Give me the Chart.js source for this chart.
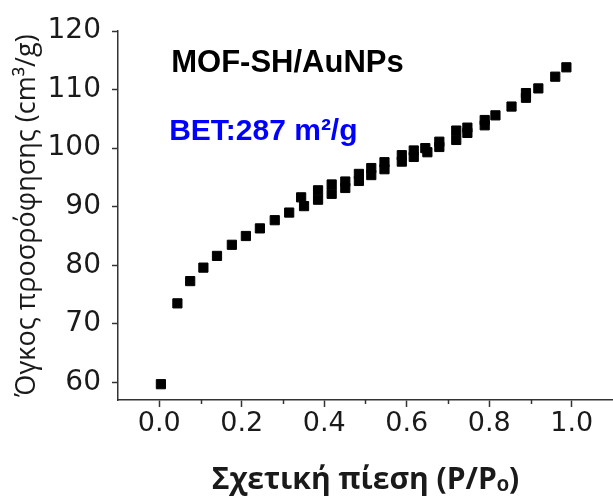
<!DOCTYPE html>
<html>
<head>
<meta charset="utf-8">
<script src="https://cdn.jsdelivr.net/npm/chart.js"></script>
<style>
  html, body { margin: 0; padding: 0; background: #fff; overflow: hidden; }
  #wrap { width: 613px; height: 501px; position: relative; }
  #isotherm { display: block; }
</style>
</head>
<body>
<div id="wrap"><canvas id="isotherm"></canvas></div>
<script>
// Ισόθερμη N2 - MOF-SH/AuNPs
const relPressure = [
  0.004, 0.044, 0.075, 0.107, 0.140, 0.176, 0.210, 0.244, 0.280, 0.315,
  0.344, 0.351, 0.385, 0.385, 0.418, 0.418, 0.451, 0.451, 0.484, 0.484,
  0.514, 0.514, 0.546, 0.546, 0.588, 0.588, 0.617, 0.617, 0.645, 0.650,
  0.679, 0.679, 0.720, 0.720, 0.747, 0.747, 0.789, 0.789, 0.815, 0.854,
  0.889, 0.889, 0.919, 0.960, 0.987
];
const volumeAdsorbed = [
  59.7, 73.5, 77.3, 79.6, 81.6, 83.5, 85.0, 86.3, 87.7, 89.0,
  91.6, 90.1, 92.8, 91.2, 93.8, 92.2, 94.3, 93.2, 95.6, 94.4,
  96.6, 95.4, 97.6, 96.4, 98.8, 97.7, 99.6, 98.5, 100.0, 99.3,
  101.1, 100.2, 103.0, 101.4, 103.5, 102.6, 104.8, 103.9, 105.6, 107.1,
  109.4, 108.6, 110.2, 112.2, 113.8
];
const xMajorTicks = [0, 0.2, 0.4, 0.6, 0.8, 1.0];
const xMinorTicks = [0.1, 0.3, 0.5, 0.7, 0.9];
const yTicks = [60, 70, 80, 90, 100, 110, 120];

const sampleLabel = 'MOF-SH/AuNPs';
const betLabel = 'BET:287 m²/g';

const axisColor = '#333';
const textColor = '#1a1a1a';

// μικρές υποδιαιρέσεις στον άξονα x
const minorTicksPlugin = {
  id: 'minorTicks',
  afterDraw(chart) {
    const ctx = chart.ctx;
    const xs = chart.scales.x;
    const bottom = chart.chartArea.bottom;
    ctx.save();
    ctx.strokeStyle = axisColor;
    ctx.lineWidth = 1.5;
    xMinorTicks.forEach(v => {
      const px = Math.round(xs.getPixelForValue(v)) + 0.5;
      ctx.beginPath();
      ctx.moveTo(px, bottom);
      ctx.lineTo(px, bottom + 4);
      ctx.stroke();
    });
    ctx.restore();
  }
};

// ετικέτες μέσα στο διάγραμμα
const labelsPlugin = {
  id: 'insideLabels',
  afterDatasetsDraw(chart) {
    const ctx = chart.ctx;
    const xs = chart.scales.x;
    const ys = chart.scales.y;
    ctx.save();
    ctx.font = 'bold 31px "Liberation Sans", Arial, sans-serif';
    ctx.textAlign = 'left';
    ctx.textBaseline = 'alphabetic';
    ctx.fillStyle = '#000';
    ctx.fillText(sampleLabel, xs.getPixelForValue(0.029), ys.getPixelForValue(113.0));
    ctx.font = 'bold 30px "Liberation Sans", Arial, sans-serif';
    ctx.fillStyle = '#0000ff';
    ctx.fillText(betLabel, xs.getPixelForValue(0.024), ys.getPixelForValue(101.4));
    ctx.restore();
  }
};

const points = relPressure.map((p, i) => ({ x: p, y: volumeAdsorbed[i] }));

new Chart(document.getElementById('isotherm'), {
  type: 'scatter',
  data: {
    datasets: [{
      label: 'N2',
      data: points,
      pointStyle: 'rect',
      pointRadius: 6.5,
      pointHoverRadius: 6.5,
      backgroundColor: '#000',
      borderColor: '#000',
      borderWidth: 1
    }]
  },
  options: {
    responsive: true,
    maintainAspectRatio: false,
    animation: false,
    events: [],
    layout: { autoPadding: false, padding: { top: 31, right: 0, bottom: 0, left: 0 } },
    plugins: {
      legend: { display: false },
      tooltip: { enabled: false }
    },
    scales: {
      x: {
        type: 'linear',
        min: -0.1,
        max: 1.1,
        afterBuildTicks: axis => { axis.ticks = xMajorTicks.map(v => ({ value: v })); },
        afterFit: axis => {
          axis.height = 101;
          axis.paddingLeft = 0;
          axis.paddingRight = 0;
        },
        grid: { display: true, drawOnChartArea: false, drawTicks: true, tickLength: 7, tickWidth: 1.5, tickColor: axisColor },
        border: { display: true, color: axisColor, width: 1.5 },
        ticks: {
          color: textColor,
          padding: 1,
          maxRotation: 0,
          font: { family: '"DejaVu Sans", sans-serif', size: 27 },
          callback: v => v.toFixed(1)
        },
        title: {
          display: true,
          text: 'Σχετική πίεση (P/Pₒ)',
          color: textColor,
          padding: { top: 0, bottom: 3 },
          font: { family: '"Open Sans", sans-serif', size: 30, weight: 'bold' }
        }
      },
      y: {
        type: 'linear',
        min: 57,
        max: 120,
        afterBuildTicks: axis => { axis.ticks = yTicks.map(v => ({ value: v })); },
        afterFit: axis => { axis.width = 118; },
        grid: { display: true, drawOnChartArea: false, drawTicks: true, tickLength: 6, tickWidth: 1.5, tickColor: axisColor },
        border: { display: true, color: axisColor, width: 1.5 },
        ticks: {
          color: textColor,
          padding: 11,
          font: { family: '"DejaVu Sans", sans-serif', size: 28 }
        },
        title: {
          display: true,
          text: 'Όγκος προσρόφησης (cm³/g)',
          color: textColor,
          padding: { top: 11, bottom: 0 },
          font: { family: '"Open Sans", sans-serif', size: 27 }
        }
      }
    }
  },
  plugins: [minorTicksPlugin, labelsPlugin]
});
</script>
</body>
</html>
